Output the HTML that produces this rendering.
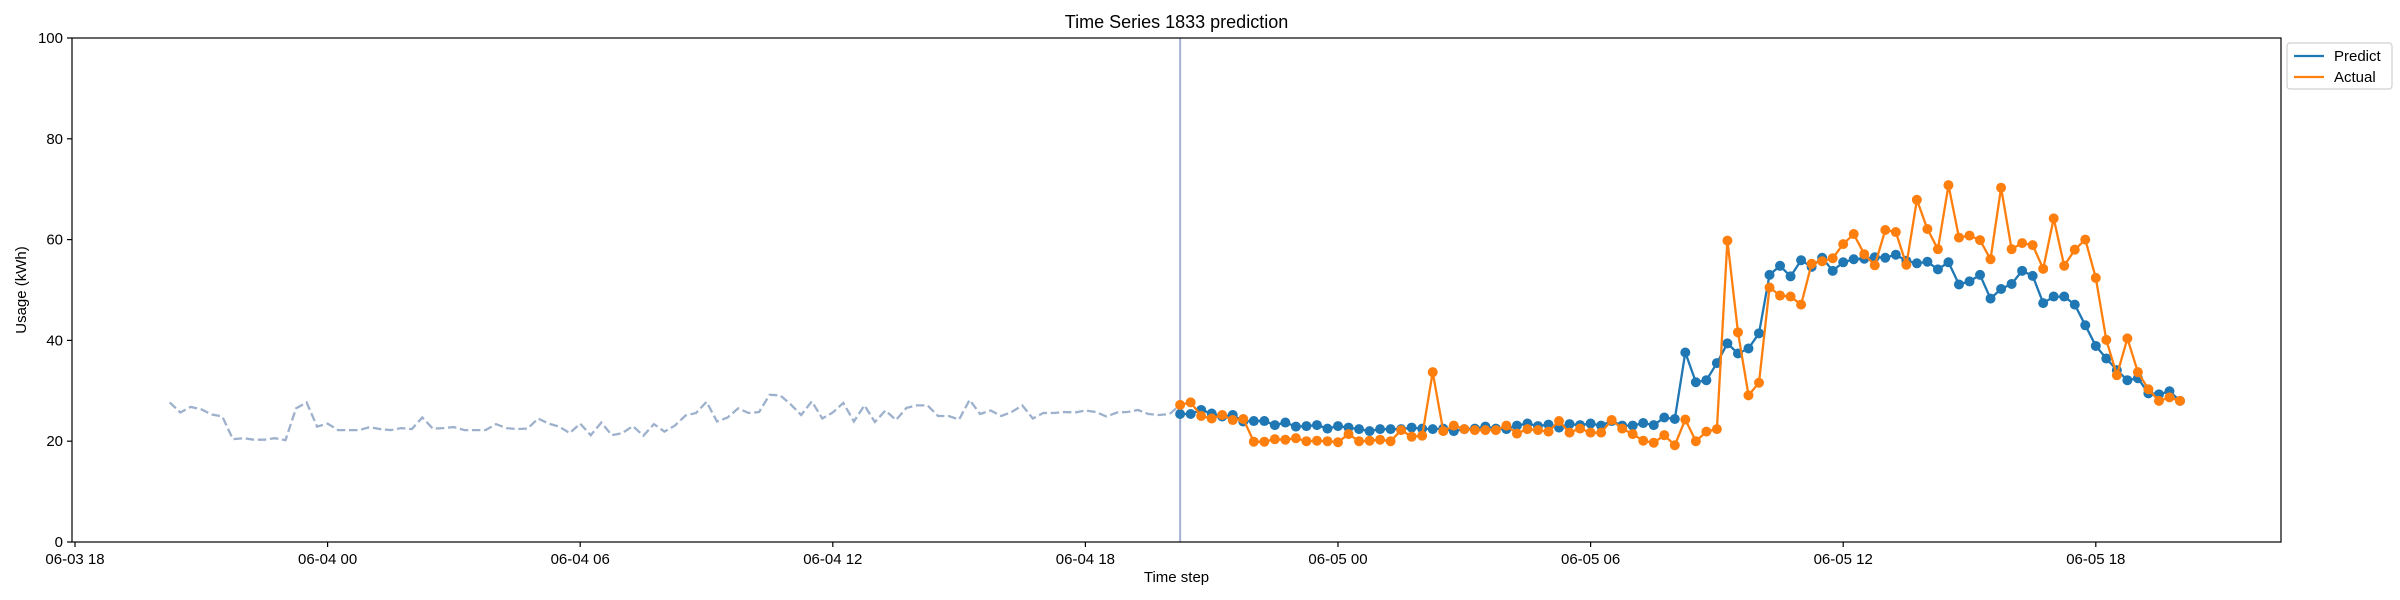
<!DOCTYPE html>
<html><head><meta charset="utf-8"><style>
html,body{margin:0;padding:0;background:#fff;}
svg{display:block;font-family:"Liberation Sans","DejaVu Sans",sans-serif;}
</style></head>
<body>
<svg id="chart" width="2400" height="600" viewBox="0 0 2400 600" xmlns="http://www.w3.org/2000/svg"></svg>
<script>
const historyValues=[27.7,25.7,26.8,26.3,25.3,24.9,20.4,20.6,20.3,20.3,20.6,20.2,26.5,27.7,22.9,23.5,22.2,22.2,22.2,22.8,22.4,22.2,22.6,22.4,24.7,22.5,22.6,22.8,22.2,22.2,22.2,23.4,22.6,22.4,22.5,24.5,23.5,22.9,21.6,23.5,21.2,23.7,21.2,21.6,23.0,21.1,23.4,21.9,
23.1,25.1,25.6,27.8,23.9,24.7,26.5,25.6,25.8,29.2,29.1,27.3,25.2,27.9,24.5,25.7,27.6,23.9,27.1,23.8,26.1,24.2,26.6,27.1,27.1,25.0,25.0,24.3,28.2,25.4,26.1,25.0,25.8,27.1,24.5,25.6,25.6,25.8,25.7,26.1,25.8,24.9,25.7,25.8,26.2,25.4,25.2,25.4];
const actualValues=[27.2,27.7,25.0,24.5,25.2,24.2,24.4,19.9,19.9,20.4,20.3,20.6,20.0,20.1,20.0,19.8,21.4,20.0,20.1,20.3,20.0,22.2,20.9,21.1,33.7,22.0,23.1,22.4,22.2,22.2,22.2,23.1,21.5,22.4,22.2,21.9,24.0,21.7,22.5,21.7,21.7,24.2,22.5,21.4,20.1,19.7,21.2,19.2,24.3,20.0,21.9,22.4,59.8,41.6,29.1,31.6,50.5,48.9,48.7,47.1,55.2,55.7,56.3,59.1,61.1,57.1,54.9,61.9,61.5,55.0,67.9,62.1,58.1,70.8,60.4,60.8,59.9,56.1,70.3,58.1,59.3,58.9,54.2,64.2,54.8,58.0,60.0,52.4,40.1,33.1,40.4,33.7,30.3,28.0,28.7,28.0];
const predictValues=[25.4,25.4,26.2,25.5,24.9,25.2,23.9,24.0,24.0,23.2,23.7,22.9,23.0,23.2,22.5,23.0,22.7,22.4,22.0,22.4,22.4,22.4,22.7,22.5,22.4,22.5,22.0,22.4,22.5,22.9,22.5,22.4,23.1,23.5,23.0,23.3,22.7,23.4,23.2,23.5,23.1,24.0,23.1,23.1,23.6,23.2,24.7,24.4,37.6,31.7,32.1,35.5,39.4,37.4,38.4,41.4,53.0,54.8,52.7,55.9,54.6,56.4,53.8,55.5,56.1,56.2,56.5,56.4,57.0,55.8,55.3,55.6,54.1,55.5,51.1,51.7,53.0,48.3,50.2,51.2,53.8,52.8,47.4,48.7,48.7,47.1,43.0,38.9,36.4,34.1,32.1,32.5,29.5,29.3,29.9,28.0];
const xTickLabels=["06-03 18","06-04 00","06-04 06","06-04 12","06-04 18","06-05 00","06-05 06","06-05 12","06-05 18"];
const xTickHours=[0,6,12,18,24,30,36,42,48];
const yTicks=[0,20,40,60,80,100];
const historyStartHour=2.25, forecastStartHour=26.25, stepHours=0.25;

const L=72,R=2281,T=38,B=542;
const xScale=h=>75+42.1*h;
const yScale=v=>B-(v/100)*(B-T);
const NS="http://www.w3.org/2000/svg";
const svg=document.getElementById('chart');
function mk(tag,attrs,parent){const e=document.createElementNS(NS,tag);for(const k in attrs)e.setAttribute(k,attrs[k]);(parent||svg).appendChild(e);return e;}

const title=mk('text',{x:(L+R)/2,y:28,'text-anchor':'middle','font-size':18,fill:'#000'});
title.textContent='Time Series 1833 prediction';



// y ticks
yTicks.forEach(v=>{
  const g=mk('g',{});
  
  
  mk('line',{x1:L-5,x2:L,y1:yScale(v),y2:yScale(v),stroke:'#000','stroke-width':1.2},g);
  const t=mk('text',{x:L-9,y:yScale(v)+5,'text-anchor':'end','font-size':15},g);
  t.textContent=v;
});
xTickLabels.forEach((lab,i)=>{
  const x=xScale(xTickHours[i]);
  const g=mk('g',{});
  
  
  mk('line',{x1:x,x2:x,y1:B,y2:B+5,stroke:'#000','stroke-width':1.2},g);
  const t=mk('text',{x:x,y:B+22,'text-anchor':'middle','font-size':15},g);
  t.textContent=lab;
});
const xl=mk('text',{x:(L+R)/2,y:582,'text-anchor':'middle','font-size':15});
xl.textContent='Time step';


const yl=mk('text',{x:0,y:0,'text-anchor':'middle','font-size':15,transform:'translate(26,'+((T+B)/2)+') rotate(-90)'});
yl.textContent='Usage (kWh)';



// history
const hp=historyValues.map((v,i)=>xScale(historyStartHour+i*stepHours).toFixed(1)+','+yScale(v).toFixed(1));
hp.push(xScale(forecastStartHour).toFixed(1)+','+yScale(actualValues[0]).toFixed(1));
const hl=mk('polyline',{points:hp.join(' '),fill:'none',stroke:'#9db1cc','stroke-width':2.3,'stroke-dasharray':'8.5,3.7'});



// forecast line
const vx=xScale(forecastStartHour);
const vl=mk('line',{x1:vx,x2:vx,y1:T,y2:B,stroke:'#a3b1d3','stroke-width':2});



function series(vals,color,name){
  const g=mk('g',{});
  
  
  const pts=vals.map((v,i)=>xScale(forecastStartHour+i*stepHours).toFixed(1)+','+yScale(v).toFixed(1));
  mk('polyline',{points:pts.join(' '),fill:'none',stroke:color,'stroke-width':2.3},g);
  vals.forEach((v,i)=>{
    const c=mk('circle',{cx:xScale(forecastStartHour+i*stepHours),cy:yScale(v),r:5,fill:color},g);
    
    
  });
}
series(predictValues,'#1f77b4','predict');
series(actualValues,'#ff7f0e','actual');

const frame=mk('rect',{x:L,y:T,width:R-L,height:B-T,fill:'none',stroke:'#000','stroke-width':1.2});



// legend
const lg=mk('g',{});


mk('rect',{x:2287,y:43,width:105,height:46,rx:3,fill:'#fff',stroke:'#d0d0d0','stroke-width':1.2},lg);
[['Predict','#1f77b4',56],['Actual','#ff7f0e',77]].forEach(([lab,col,y])=>{
  const e=mk('g',{},lg);
  
  
  mk('line',{x1:2294,x2:2324,y1:y,y2:y,stroke:col,'stroke-width':2.3},e);
  const t=mk('text',{x:2334,y:y+5,'font-size':15},e);
  t.textContent=lab;
});
</script>
</body></html>
